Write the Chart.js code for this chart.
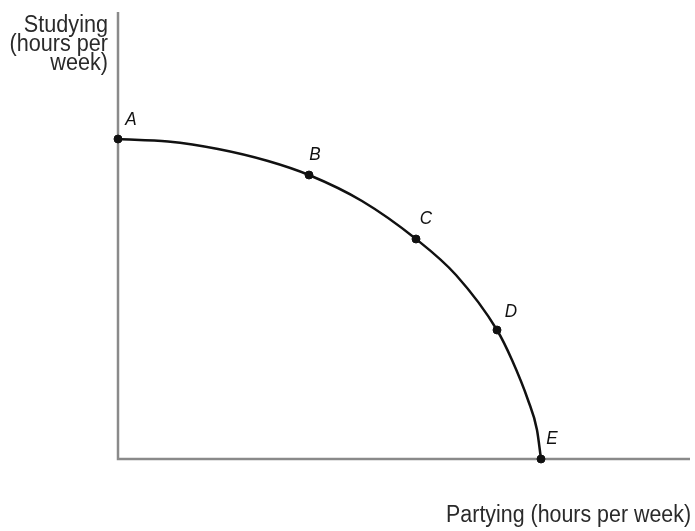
<!DOCTYPE html>
<html>
<head>
<meta charset="utf-8">
<script src="https://cdn.jsdelivr.net/npm/chart.js@4/dist/chart.umd.min.js"></script>
<style>
  html, body { margin: 0; padding: 0; background: #fff; }
  #wrap { width: 695px; height: 531px; }
</style>
</head>
<body>
<div id="wrap"><canvas id="ppf" width="695" height="531"></canvas></div>
<script>
// production possibilities: partying (x) vs studying (y), arbitrary units
const POINT_NAMES = ['A', 'B', 'C', 'D', 'E'];
const POINT_X     = [0, 19.1, 29.8, 37.9, 42.3];
const POINT_Y     = [32.0, 28.4, 22.0, 12.9, 0];

// curve
const CURVE_X = [0, 5, 10, 15, 19.1, 24.4, 29.8, 33.8, 37.9, 39.4, 41.0, 41.9, 42.3];
const CURVE_Y = [32.0, 31.75, 31.0, 29.8, 28.4, 25.8, 22.0, 18.4, 12.9, 9.9, 5.9, 2.9, 0];

const X_MAX = 57.2;
const Y_MAX = 44.7;
const X_TITLE = 'Partying (hours per week)';
const Y_TITLE = ['Studying', '(hours per', 'week)'];

// label offsets from each dot, px
const LABEL_OFF = [[13, -19], [6, -20], [10, -20], [14, -18], [11, -20]];

const AXIS_COL = '#8a8a8a';
const INK = '#111';

const axesPlugin = {
  id: 'axes',
  beforeDatasetsDraw(chart) {
    const { ctx, chartArea: a } = chart;
    ctx.save();
    ctx.strokeStyle = AXIS_COL;
    ctx.lineWidth = 2.5;
    ctx.beginPath();
    ctx.moveTo(a.left, a.top);
    ctx.lineTo(a.left, a.bottom);
    ctx.lineTo(a.right, a.bottom);
    ctx.stroke();
    ctx.restore();
  },
  afterDraw(chart) {
    const { ctx, chartArea: a, scales } = chart;
    ctx.save();
    ctx.fillStyle = '#2a2a2a';
    ctx.textAlign = 'right';
    ctx.textBaseline = 'alphabetic';
    ctx.font = '23px "Liberation Sans", Arial, sans-serif';
    // condensed look of the original type
    Y_TITLE.forEach((t, i) => {
      ctx.save();
      ctx.translate(a.left - 10, 32 + i * 19);
      ctx.scale(0.94, 1);
      ctx.fillText(t, 0, 0);
      ctx.restore();
    });
    ctx.save();
    ctx.translate(691, 522);
    ctx.scale(0.93, 1);
    ctx.fillText(X_TITLE, 0, 0);
    ctx.restore();

    ctx.fillStyle = INK;
    ctx.textAlign = 'center';
    ctx.textBaseline = 'middle';
    ctx.font = 'italic 19px "Liberation Sans", Arial, sans-serif';
    POINT_NAMES.forEach((n, i) => {
      const px = scales.x.getPixelForValue(POINT_X[i]) + LABEL_OFF[i][0];
      const py = scales.y.getPixelForValue(POINT_Y[i]) + LABEL_OFF[i][1];
      ctx.save();
      ctx.translate(px, py);
      ctx.scale(0.9, 1);
      ctx.fillText(n, 0, 0);
      ctx.restore();
    });
    ctx.restore();
  }
};

new Chart(document.getElementById('ppf'), {
  type: 'scatter',
  data: {
    datasets: [
      {
        data: CURVE_X.map((x, i) => ({ x, y: CURVE_Y[i] })),
        showLine: true,
        borderColor: INK,
        borderWidth: 2.5,
        pointRadius: 0,
        cubicInterpolationMode: 'monotone',
        clip: false
      },
      {
        data: POINT_X.map((x, i) => ({ x, y: POINT_Y[i] })),
        showLine: false,
        pointRadius: 4,
        pointBackgroundColor: INK,
        pointBorderColor: INK,
        clip: false
      }
    ]
  },
  options: {
    responsive: false,
    animation: false,
    layout: { padding: { left: 118, top: 12, right: 5, bottom: 72 } },
    plugins: { legend: { display: false }, tooltip: { enabled: false } },
    scales: {
      x: { type: 'linear', min: 0, max: X_MAX, display: false },
      y: { type: 'linear', min: 0, max: Y_MAX, display: false }
    }
  },
  plugins: [axesPlugin]
});
</script>
</body>
</html>
